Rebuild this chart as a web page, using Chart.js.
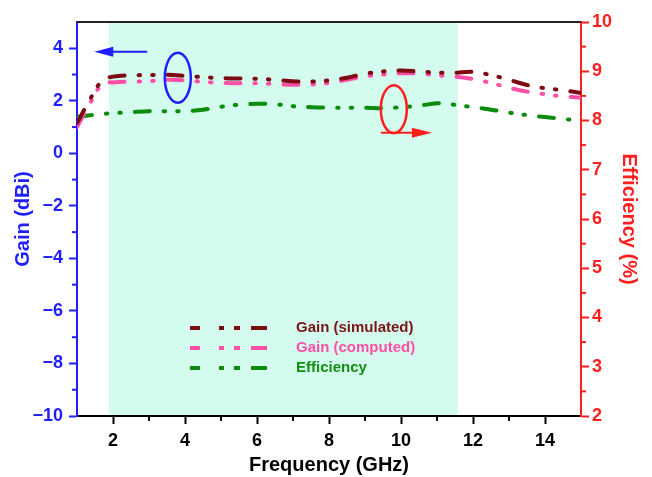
<!DOCTYPE html>
<html>
<head>
<meta charset="utf-8">
<script src="https://cdn.jsdelivr.net/npm/chart.js@4.4.0/dist/chart.umd.min.js"></script>
<style>
html,body{margin:0;padding:0;background:#fff;}
#wrap{width:652px;height:477px;}
</style>
</head>
<body>
<div id="wrap"><canvas id="chart" width="652" height="477"></canvas></div>
<script>
// frequency points (GHz)
var freq = [1, 1.3, 1.7, 2, 2.5, 3, 3.5, 4, 4.5, 5, 5.5, 6, 6.5, 7, 7.5, 8, 8.5, 9, 9.5, 10, 10.5, 11, 11.5, 12, 12.5, 13, 13.5, 14, 14.5, 15];
// gain (dBi), left axis
var gainSim = [1.15, 1.9, 2.78, 2.92, 2.97, 2.98, 2.99, 2.95, 2.9, 2.86, 2.85, 2.84, 2.8, 2.74, 2.73, 2.78, 2.88, 3.03, 3.12, 3.15, 3.12, 3.07, 3.07, 3.1, 2.98, 2.8, 2.6, 2.48, 2.4, 2.3];
var gainComp = [1.0, 1.75, 2.65, 2.7, 2.73, 2.75, 2.8, 2.78, 2.72, 2.68, 2.67, 2.67, 2.64, 2.61, 2.62, 2.68, 2.8, 2.93, 3.0, 3.05, 3.04, 2.97, 2.92, 2.83, 2.68, 2.5, 2.35, 2.25, 2.17, 2.12];
// efficiency (%), right axis
var efficiency = [8.07, 8.1, 8.13, 8.15, 8.17, 8.19, 8.19, 8.19, 8.22, 8.28, 8.32, 8.34, 8.33, 8.29, 8.27, 8.26, 8.26, 8.26, 8.25, 8.27, 8.3, 8.35, 8.32, 8.27, 8.22, 8.16, 8.11, 8.07, 8.03, 8.0];
var seriesNames = ["Gain (simulated)", "Gain (computed)", "Efficiency"];
// shaded band (GHz)
var band = [1.88, 11.58];

var colSim = "#7d0a12";
var colComp = "#ff4fa6";
var colEff = "#0c8c0c";
var colBlue = "#1f1fff";
var colRed = "#ff1f1f";
var dash = [15, 14, 1.5, 12, 1.5, 14];
var tickFont = {family: "'Liberation Sans', Arial, sans-serif", size: 18, weight: "bold"};
var titleFont = {family: "'Liberation Sans', Arial, sans-serif", size: 20, weight: "bold"};

function pts(ys) {
	return freq.map(function (f, i) { return {x: f, y: ys[i]}; });
}

function makeSet(label, ys, color, axis) {
	return {
		label: label,
		data: pts(ys),
		yAxisID: axis,
		borderColor: color,
		backgroundColor: color,
		borderWidth: 4,
		borderDash: dash,
		borderCapStyle: "round",
		pointRadius: 0,
		tension: 0.35,
		fill: false
	};
}

var decor = {
	id: "decor",
	beforeDraw: function (chart) {
		var c = chart.ctx, a = chart.chartArea, x = chart.scales.x;
		c.save();
		c.fillStyle = "#d3fbee";
		var x0 = x.getPixelForValue(band[0]), x1 = x.getPixelForValue(band[1]);
		c.fillRect(x0, a.top, x1 - x0, a.bottom - a.top);
		c.restore();
	},
	afterDraw: function (chart) {
		var c = chart.ctx, a = chart.chartArea;
		var sx = chart.scales.x, sy = chart.scales.y, sy1 = chart.scales.y1;
		c.save();
		// top frame
		c.strokeStyle = "#222";
		c.lineWidth = 2;
		c.beginPath();
		c.moveTo(a.left, a.top);
		c.lineTo(a.right, a.top);
		c.stroke();

		// minor ticks
		c.lineWidth = 2;
		c.strokeStyle = "#000";
		for (var v = 3; v <= 13; v += 2) {
			var px = sx.getPixelForValue(v);
			c.beginPath(); c.moveTo(px, a.bottom); c.lineTo(px, a.bottom + 5); c.stroke();
		}
		c.strokeStyle = colBlue;
		for (var v = -9; v <= 3; v += 2) {
			var py = sy.getPixelForValue(v);
			c.beginPath(); c.moveTo(a.left, py); c.lineTo(a.left - 5, py); c.stroke();
		}
		c.strokeStyle = colRed;
		for (var v = 2.5; v < 10; v += 1) {
			var py = sy1.getPixelForValue(v);
			c.beginPath(); c.moveTo(a.right, py); c.lineTo(a.right + 5, py); c.stroke();
		}

		// blue ellipse + arrow (gain -> left axis)
		c.lineWidth = 2.5;
		c.strokeStyle = colBlue;
		c.fillStyle = colBlue;
		c.beginPath();
		c.ellipse(sx.getPixelForValue(3.8), sy.getPixelForValue(2.88), 13, 25, 0, 0, Math.PI * 2);
		c.stroke();
		var ay = sy.getPixelForValue(3.87);
		var ax0 = sx.getPixelForValue(2.95), ax1 = sx.getPixelForValue(1.48);
		c.lineWidth = 2;
		c.beginPath(); c.moveTo(ax0, ay); c.lineTo(ax1 + 10, ay); c.stroke();
		c.beginPath(); c.moveTo(ax1, ay); c.lineTo(ax1 + 19, ay - 5); c.lineTo(ax1 + 19, ay + 5); c.closePath(); c.fill();

		// red ellipse + arrow (efficiency -> right axis)
		c.lineWidth = 2.5;
		c.strokeStyle = colRed;
		c.fillStyle = colRed;
		var ex = sx.getPixelForValue(9.8), ey = sy1.getPixelForValue(8.23);
		c.beginPath();
		c.ellipse(ex, ey, 13, 24, 0, 0, Math.PI * 2);
		c.stroke();
		var ry = sy1.getPixelForValue(7.75);
		var rx1 = sx.getPixelForValue(10.86);
		c.lineWidth = 2;
		c.beginPath(); c.moveTo(ex - 13, ry); c.lineTo(rx1 - 10, ry); c.stroke();
		c.beginPath(); c.moveTo(rx1, ry); c.lineTo(rx1 - 20, ry - 5); c.lineTo(rx1 - 20, ry + 5); c.closePath(); c.fill();

		// legend
		var cols = [colSim, colComp, colEff];
		var txtCols = ["#7b1515", "#ff4fa6", "#119011"];
		var segs = [[0, 10], [29, 34], [44, 50], [61, 77]];
		var lx = a.left + 113, ly = a.top + 306;
		c.font = "bold 15px 'Liberation Sans', Arial, sans-serif";
		c.textBaseline = "middle";
		c.textAlign = "left";
		for (var i = 0; i < 3; i++) {
			var y = ly + i * 20;
			c.strokeStyle = cols[i];
			c.lineWidth = 4;
			for (var j = 0; j < segs.length; j++) {
				c.beginPath(); c.moveTo(lx + segs[j][0], y); c.lineTo(lx + segs[j][1], y); c.stroke();
			}
			c.fillStyle = txtCols[i];
			c.fillText(seriesNames[i], lx + 106, y);
		}
		c.restore();
	}
};

var ctx = document.getElementById("chart");
var myChart = new Chart(ctx, {
	type: "line",
	data: {
		datasets: [
			makeSet(seriesNames[0], gainSim, colSim, "y"),
			makeSet(seriesNames[1], gainComp, colComp, "y"),
			makeSet(seriesNames[2], efficiency, colEff, "y1")
		]
	},
	options: {
		responsive: false,
		animation: false,
		devicePixelRatio: 1,
		layout: {padding: {top: 22, left: 0, right: 0, bottom: 0}},
		plugins: {legend: {display: false}, tooltip: {enabled: false}},
		scales: {
			x: {
				type: "linear", min: 1, max: 15,
				afterFit: function (s) { s.height = 61; },
				ticks: {
					stepSize: 1, autoSkip: false, maxRotation: 0, padding: 6,
					color: "#000", font: tickFont,
					callback: function (v) { return (v % 2 === 0 && v >= 2 && v <= 14) ? v : ""; }
				},
				grid: {
					drawOnChartArea: false, tickLength: 8, tickWidth: 2,
					tickColor: function (c) { var v = c.tick.value; return (v % 2 === 0 && v >= 2 && v <= 14) ? "#000" : "rgba(0,0,0,0)"; }
				},
				border: {color: "#000", width: 2},
				title: {display: true, text: "Frequency (GHz)", color: "#000", font: titleFont, padding: {top: 0, bottom: 0}}
			},
			y: {
				position: "left", min: -10, max: 5,
				afterFit: function (s) { s.width = 77; },
				ticks: {
					stepSize: 1, autoSkip: false, padding: 6,
					color: colBlue, font: tickFont,
					callback: function (v) { return (v % 2 === 0) ? String(v).replace("-", "\u2212") : ""; }
				},
				grid: {
					drawOnChartArea: false, tickLength: 8, tickWidth: 2,
					tickColor: function (c) { return (c.tick.value % 2 === 0) ? colBlue : "rgba(0,0,0,0)"; }
				},
				border: {color: colBlue, width: 2},
				title: {display: true, text: "Gain (dBi)", color: colBlue, font: titleFont, padding: {top: 11, bottom: 0}}
			},
			y1: {
				position: "right", min: 2, max: 10,
				afterFit: function (s) { s.width = 71; },
				ticks: {
					stepSize: 0.5, autoSkip: false, padding: 3,
					color: colRed, font: tickFont,
					callback: function (v) { return Number.isInteger(v) ? v : ""; }
				},
				grid: {
					drawOnChartArea: false, tickLength: 8, tickWidth: 2,
					tickColor: function (c) { return Number.isInteger(c.tick.value) ? colRed : "rgba(0,0,0,0)"; }
				},
				border: {color: colRed, width: 2},
				title: {display: true, text: "Efficiency (%)", color: colRed, font: titleFont, padding: {top: 11, bottom: 0}}
			}
		}
	},
	plugins: [decor]
});
</script>
</body>
</html>
